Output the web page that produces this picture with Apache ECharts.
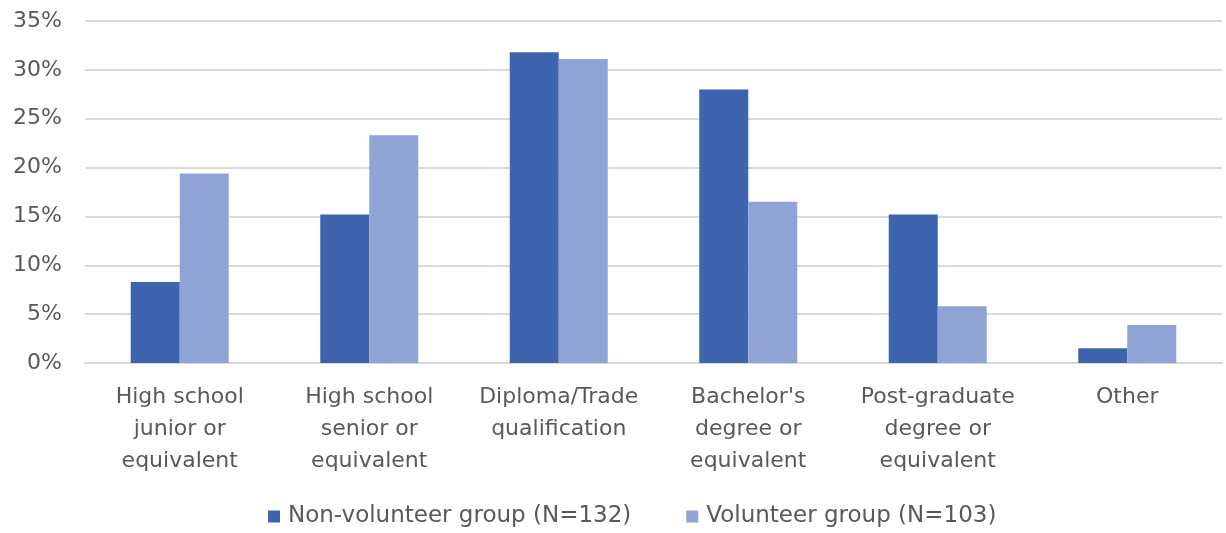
<!DOCTYPE html>
<html>
<head>
<meta charset="utf-8">
<script src="https://cdn.jsdelivr.net/npm/echarts@6/dist/echarts.min.js"></script>
<style>
  html, body { margin: 0; padding: 0; background: #fff; }
  #chart { width: 1226px; height: 533px; }
</style>
</head>
<body>
<div id="chart"></div>
<script>
// Education level categories
const categories = [
  'High school\njunior or\nequivalent',
  'High school\nsenior or\nequivalent',
  'Diploma/Trade\nqualification',
  "Bachelor's\ndegree or\nequivalent",
  'Post-graduate\ndegree or\nequivalent',
  'Other'
];
// Share of each group (%)
const nonVolunteer = [8.3, 15.2, 31.8, 28.0, 15.2, 1.5];
const volunteer = [19.4, 23.3, 31.1, 16.5, 5.8, 3.9];
const seriesNames = ['Non-volunteer group (N=132)', 'Volunteer group (N=103)'];

const textColor = '#595959';
const font = 'DejaVu Sans';

const chart = echarts.init(document.getElementById('chart'), null, { renderer: 'canvas' });
chart.setOption({
  animation: false,
  color: ['#3d64ad', '#8fa4d5'],
  grid: { left: 85, right: 4, top: 21, bottom: 170, containLabel: false },
  legend: {
    bottom: 0,
    left: 263,
    itemWidth: 12,
    itemHeight: 12,
    itemGap: 55,
    icon: 'rect',
    textStyle: { color: textColor, fontFamily: font, fontSize: 23, padding: [0, 0, 0, 3] },
    data: seriesNames
  },
  xAxis: {
    type: 'category',
    data: categories,
    axisLine: { show: true, lineStyle: { color: '#d9d9d9', width: 2 } },
    axisTick: { show: false },
    axisLabel: {
      color: textColor, fontFamily: font, fontSize: 22,
      lineHeight: 32, margin: 18, interval: 0
    }
  },
  yAxis: {
    type: 'value',
    min: 0, max: 35, interval: 5,
    axisLine: { show: false },
    axisTick: { show: false },
    splitLine: { lineStyle: { color: '#d9d9d9', width: 2 } },
    axisLabel: {
      color: textColor, fontFamily: font, fontSize: 22, margin: 23,
      formatter: v => v + '%'
    }
  },
  series: [
    { name: seriesNames[0], type: 'bar', data: nonVolunteer, barWidth: 49, barGap: '0%' },
    { name: seriesNames[1], type: 'bar', data: volunteer, barWidth: 49, barGap: '0%' }
  ]
});
</script>
</body>
</html>
